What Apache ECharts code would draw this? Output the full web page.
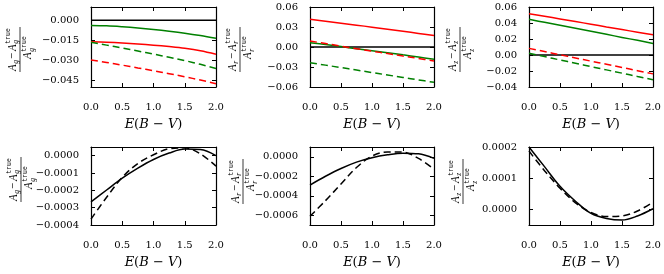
<!DOCTYPE html>
<html>
<head>
<meta charset="utf-8">
<script src="https://cdn.jsdelivr.net/npm/echarts@6/dist/echarts.min.js"></script>
<style>html,body{margin:0;padding:0;background:#fff;}#c{width:664px;height:274px;}</style>
</head>
<body>
<div id="c"></div>
<script>
// ---- data ----
const xValues = [0, 0.25, 0.5, 0.75, 1, 1.25, 1.5, 1.75, 2];
const xTicks = [0, 0.5, 1, 1.5, 2];

// top row: relative errors
const agGreenSolid  = [-0.0038,-0.0041,-0.0048,-0.0057,-0.0068,-0.0081,-0.0096,-0.0114,-0.0135];
const agRedSolid    = [-0.0160,-0.0164,-0.0170,-0.0177,-0.0186,-0.0197,-0.0210,-0.0228,-0.0254];
const agGreenDashed = [-0.0165,-0.0186,-0.0208,-0.0230,-0.0253,-0.0277,-0.0302,-0.0330,-0.0361];
const agRedDashed   = [-0.0297,-0.0316,-0.0336,-0.0357,-0.0378,-0.0400,-0.0423,-0.0448,-0.0475];

const arRedSolid    = [0.0415,0.0386,0.0357,0.0328,0.0298,0.0267,0.0236,0.0204,0.0172];
const arGreenSolid  = [0.0065,0.0036,0.0006,-0.0025,-0.0055,-0.0086,-0.0118,-0.0150,-0.0185];
const arRedDashed   = [0.0090,0.0052,0.0013,-0.0025,-0.0062,-0.0099,-0.0136,-0.0172,-0.0210];
const arGreenDashed = [-0.0235,-0.0272,-0.0309,-0.0346,-0.0383,-0.0420,-0.0457,-0.0493,-0.0530];

const azRedSolid    = [0.0517,0.0484,0.0451,0.0418,0.0385,0.0351,0.0318,0.0285,0.0252];
const azGreenSolid  = [0.0446,0.0408,0.0371,0.0333,0.0296,0.0258,0.0220,0.0183,0.0145];
const azRedDashed   = [0.0083,0.0043,0.0003,-0.0037,-0.0077,-0.0116,-0.0156,-0.0196,-0.0236];
const azGreenDashed = [0.0021,-0.0020,-0.0062,-0.0103,-0.0145,-0.0186,-0.0227,-0.0269,-0.0310];

const zeroLine = [0, 0];
const zeroLineX = [0, 2];

// bottom row
const bgSolid  = [-0.000267,-0.000198,-0.000130,-0.000072,-0.000022,0.000015,0.000038,0.000035,0.000000];
const bgDashed = [-0.000366,-0.000240,-0.000125,-0.000045,0.000005,0.000040,0.000045,0.000010,-0.000060];
const brSolid  = [-0.000290,-0.000200,-0.000120,-0.000055,-0.000010,0.000020,0.000037,0.000030,-0.000017];
const brDashed = [-0.000610,-0.000450,-0.000280,-0.000110,0.000007,0.000050,0.000047,-0.000017,-0.000128];
const bzSolid  = [0.000200,0.000137,0.000074,0.000026,-0.000013,-0.000029,-0.000034,-0.000021,0.000002];
const bzDashed = [0.000187,0.000124,0.000068,0.000021,-0.000010,-0.000023,-0.000021,-0.000005,0.000023];

// y ranges & tick labels
const yTicks1 = [-0.045, -0.030, -0.015, 0.000];
const yTicks2 = [-0.06, -0.03, 0.00, 0.03, 0.06];
const yTicks3 = [-0.04, -0.02, 0.00, 0.02, 0.04, 0.06];
const yTicks4 = [-0.0004, -0.0003, -0.0002, -0.0001, 0.0000];
const yTicks5 = [-0.0006, -0.0004, -0.0002, 0.0000];
const yTicks6 = [0.0000, 0.0001, 0.0002];

const bands = ['g', 'r', 'z', 'g', 'r', 'z'];

// ---- layout ----
const panels = [
  {left: 91,  top: 7,   width: 125, height: 80, min: -0.05,   max: 0.01,    ticks: yTicks1, dec: 3},
  {left: 310, top: 7,   width: 124, height: 80, min: -0.06,   max: 0.06,    ticks: yTicks2, dec: 2},
  {left: 529, top: 7,   width: 124, height: 80, min: -0.04,   max: 0.06,    ticks: yTicks3, dec: 2},
  {left: 91,  top: 147, width: 125, height: 78, min: -0.0004, max: 0.00005, ticks: yTicks4, dec: 4},
  {left: 310, top: 147, width: 124, height: 78, min: -0.0007, max: 0.0001,  ticks: yTicks5, dec: 4},
  {left: 529, top: 147, width: 124, height: 78, min: -0.00005,max: 0.0002,  ticks: yTicks6, dec: 4}
];
const fracPos = [[20, 47], [240, 47], [460, 47], [21, 177], [243, 179], [463, 179]];

const GREEN = '#008000', RED = '#ff0000', BLACK = '#000000';
const tickFont = '"DejaVu Serif", serif';

function fmt(dec) {
  return function (v) {
    if (Math.abs(v) < 1e-12) return (0).toFixed(dec);
    return (v < 0 ? '\u2212' : '') + Math.abs(v).toFixed(dec);
  };
}

const grid = [], xAxis = [], yAxis = [], series = [];
panels.forEach(function (p, i) {
  grid.push({left: p.left, top: p.top, width: p.width, height: p.height, containLabel: false});
  const axLine = {show: true, onZero: false, lineStyle: {color: BLACK, width: 1.2}};
  const tick = {show: true, inside: true, length: 4, lineStyle: {color: BLACK, width: 1}};
  xAxis.push({
    type: 'value', gridIndex: i, min: 0, max: 2, position: 'bottom',
    axisLine: axLine,
    axisTick: Object.assign({customValues: xTicks}, tick),
    axisLabel: {customValues: xTicks, formatter: function (v) { return v.toFixed(1); }, margin: 15,
      fontFamily: tickFont, fontSize: 10, color: BLACK},
    splitLine: {show: false},
    name: '{i|E}({i|B} \u2212 {i|V})', nameLocation: 'middle', nameGap: 31,
    nameTextStyle: {fontFamily: tickFont, fontSize: 13, color: BLACK,
      rich: {i: {fontFamily: tickFont, fontStyle: 'italic', fontSize: 13, color: BLACK}}}
  });
  xAxis.push({
    type: 'value', gridIndex: i, min: 0, max: 2, position: 'top',
    axisLine: axLine,
    axisTick: Object.assign({customValues: xTicks}, tick),
    axisLabel: {show: false}, splitLine: {show: false}
  });
  yAxis.push({
    type: 'value', gridIndex: i, min: p.min, max: p.max, position: 'left',
    axisLine: axLine,
    axisTick: Object.assign({customValues: p.ticks}, tick),
    axisLabel: {customValues: p.ticks, formatter: fmt(p.dec), margin: 12,
      fontFamily: tickFont, fontSize: 10, color: BLACK},
    splitLine: {show: false}
  });
  yAxis.push({
    type: 'value', gridIndex: i, min: p.min, max: p.max, position: 'right',
    axisLine: axLine,
    axisTick: Object.assign({customValues: p.ticks}, tick),
    axisLabel: {show: false}, splitLine: {show: false}
  });
});

function pts(arr) { return xValues.map(function (x, k) { return [x, arr[k]]; }); }
function addLine(panel, arr, color, dashed, xs) {
  series.push({
    type: 'line', xAxisIndex: panel * 2, yAxisIndex: panel * 2,
    data: xs ? xs.map(function (x, k) { return [x, arr[k]]; }) : pts(arr),
    showSymbol: false, symbol: 'none', smooth: xs ? false : 0.35, animation: false,
    lineStyle: {color: color, width: 1.5, type: dashed ? [7, 4] : 'solid'},
    z: 3
  });
}
// top row
[0, 1, 2].forEach(function (i) { addLine(i, zeroLine, BLACK, false, zeroLineX); });
addLine(0, agGreenSolid, GREEN, false);
addLine(0, agRedSolid, RED, false);
addLine(0, agGreenDashed, GREEN, true);
addLine(0, agRedDashed, RED, true);
addLine(1, arRedSolid, RED, false);
addLine(1, arGreenSolid, GREEN, false);
addLine(1, arRedDashed, RED, true);
addLine(1, arGreenDashed, GREEN, true);
addLine(2, azRedSolid, RED, false);
addLine(2, azGreenSolid, GREEN, false);
addLine(2, azRedDashed, RED, true);
addLine(2, azGreenDashed, GREEN, true);
// bottom row
addLine(3, bgSolid, BLACK, false);
addLine(3, bgDashed, BLACK, true);
addLine(4, brSolid, BLACK, false);
addLine(4, brDashed, BLACK, true);
addLine(5, bzSolid, BLACK, false);
addLine(5, bzDashed, BLACK, true);

// fraction y-axis labels
function txt(text, x, y, font) {
  return {type: 'text', x: x, y: y, silent: true,
    style: {text: text, font: font, fill: BLACK, textAlign: 'left', textVerticalAlign: 'middle', verticalAlign: 'middle'}};
}
function frac(cx, cy, b) {
  const main = 'italic 11px "Liberation Serif", serif';
  const up = '11px "Liberation Serif", serif';
  const scr = 'italic 7.5px "Liberation Serif", serif';
  const tt = '6.5px "Liberation Mono", monospace';
  const ny = -6.5, dy = 6.5;
  return {
    type: 'group', x: cx, y: cy, rotation: Math.PI / 2, scaleY: 1.2,
    children: [
      txt('A', -24, ny, main),
      txt(b, -16.8, ny + 3, scr),
      txt('\u2212', -12, ny, up),
      txt('A', -4, ny, main),
      txt('true', 3.2, ny - 3.5, tt),
      txt(b, 3.2, ny + 3, scr),
      {type: 'line', silent: true, shape: {x1: -25, y1: 0, x2: 20, y2: 0}, style: {stroke: BLACK, lineWidth: 0.7}},
      txt('A', -12, dy, main),
      txt('true', -4.8, dy - 3.5, tt),
      txt(b, -4.8, dy + 3, scr)
    ]
  };
}
const graphic = fracPos.map(function (p, i) { return frac(p[0], p[1], bands[i]); });

const chart = echarts.init(document.getElementById('c'), null, {renderer: 'canvas'});
chart.setOption({
  animation: false,
  backgroundColor: '#ffffff',
  grid: grid, xAxis: xAxis, yAxis: yAxis, series: series, graphic: graphic
});
</script>
</body>
</html>
